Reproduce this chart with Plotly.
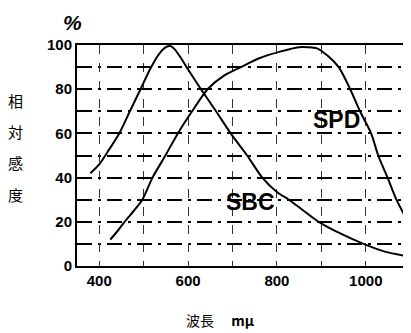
import plotly.graph_objects as go

# Data (wavelength in mμ, relative sensitivity in %)
sbc_x = [380, 400, 420, 445, 469, 493, 517, 535, 550, 560, 570, 581, 603, 629, 663, 696, 733, 767, 800, 827, 860, 894, 945, 995, 1043, 1092]
sbc_y = [42, 46, 52, 60, 70, 80, 90, 96, 99, 99.5, 98, 95, 88, 80, 70, 60, 50, 40, 33.5, 30, 25, 20, 14.5, 10, 6.5, 4.5]

spd_x = [425, 440, 457, 478, 497, 520, 549, 577, 609, 644, 680, 719, 760, 807, 849, 870, 890, 915, 939, 965, 987, 1012, 1028, 1049, 1069, 1095]
spd_y = [12, 15.5, 20, 25, 30, 40, 50, 60, 70, 80, 86, 90, 94, 97, 99, 99, 98.5, 95, 90, 80, 70, 60, 50, 40, 30, 20]

x_ticks = [400, 600, 800, 1000]
y_ticks = [0, 20, 40, 60, 80, 100]

labels = {"SPD": (934, 66), "SBC": (740, 29)}
y_title_chars = ["相", "対", "感", "度"]
x_title = "波長　 <b>mμ</b>"

fig = go.Figure()
for xs, ys in [(sbc_x, sbc_y), (spd_x, spd_y)]:
    fig.add_trace(go.Scatter(x=xs, y=ys, mode="lines",
                             line=dict(color="black", width=2, shape="spline", smoothing=0.8),
                             showlegend=False, hoverinfo="skip"))

for name, (lx, ly) in labels.items():
    fig.add_annotation(x=lx, y=ly, text=f"<b>{name}</b>", showarrow=False,
                       font=dict(family="Liberation Sans, Arial", size=23, color="black"))

# plot area: 333 x 221 px
for i, ch in enumerate(y_title_chars):
    fig.add_annotation(xref="paper", yref="paper", x=-0.186, y=0.751 - i * 0.142, text=ch,
                       showarrow=False, xanchor="center", yanchor="middle",
                       font=dict(family="Noto Sans CJK JP", size=15, color="black"))

fig.add_annotation(xref="paper", yref="paper", x=-0.015, y=1.104, text="<b><i>%</i></b>",
                   showarrow=False, xanchor="center", yanchor="middle",
                   font=dict(family="Liberation Sans, Arial", size=21, color="black"))

fig.add_annotation(xref="paper", yref="paper", x=0.435, y=-0.244, text=x_title,
                   showarrow=False, xanchor="center", yanchor="middle",
                   font=dict(family="Noto Sans CJK JP", size=14, color="black"))

fig.update_xaxes(range=[350, 1095], tickvals=x_ticks, ticktext=[str(v) for v in x_ticks],
                 showline=True, mirror=True, linecolor="black", linewidth=2,
                 showgrid=True, gridcolor="#333", griddash="dash", gridwidth=1,
                 minor=dict(dtick=100, tick0=400, showgrid=True, gridcolor="#333", griddash="dash", gridwidth=1),
                 ticks="", zeroline=False,
                 tickfont=dict(family="Liberation Sans, Arial", size=15, color="black", weight="bold"))
fig.update_yaxes(range=[0, 100], tickvals=y_ticks, ticktext=[str(v) for v in y_ticks],
                 showline=True, mirror=True, linecolor="black", linewidth=2,
                 showgrid=True, gridcolor="#000", griddash="longdashdot", gridwidth=1.5,
                 minor=dict(dtick=10, tick0=0, showgrid=True, gridcolor="#000", griddash="longdashdot", gridwidth=1.5),
                 ticks="", zeroline=False,
                 tickfont=dict(family="Liberation Sans, Arial", size=15, color="black", weight="bold"))

# page body has an 8px margin, so the figure is sized 8px smaller
fig.update_layout(width=403, height=325, margin=dict(l=69, r=1, t=37, b=67),
                  plot_bgcolor="white", paper_bgcolor="white")

fig.write_html("out.html")
